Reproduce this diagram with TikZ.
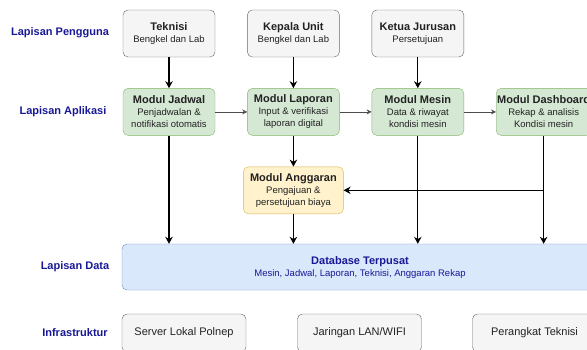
\documentclass[tikz,border=0pt]{standalone}
\usepackage{fontspec}
\setmainfont{Liberation Sans}
\usepackage{tikz}
\usetikzlibrary{arrows.meta,positioning}

\definecolor{usrfill}{HTML}{F5F5F5}
\definecolor{usrline}{HTML}{666666}
\definecolor{modfill}{HTML}{D5E8D4}
\definecolor{modline}{HTML}{82B366}
\definecolor{budfill}{HTML}{FFF2CC}
\definecolor{budline}{HTML}{D6B656}
\definecolor{dbfill}{HTML}{DAE8FC}
\definecolor{dbline}{HTML}{6C8EBF}
\definecolor{layertxt}{RGB}{24,24,150}
\definecolor{boxtxt}{HTML}{222222}

\newcommand{\boxtitle}[1]{{\fontsize{11}{12.5}\selectfont\bfseries #1}}
\newcommand{\boxsub}[1]{{\fontsize{9.5}{11}\selectfont #1}}

\begin{document}
\begin{tikzpicture}
    [x=1pt, y=-1pt, node distance = 31pt and 32pt,
      user/.style={rectangle, rounded corners=5pt, draw=usrline, fill=usrfill, minimum width=92pt, minimum height=47pt, inner sep=1pt, align=center, text=boxtxt},
      module/.style={user, draw=modline, fill=modfill},
      budget/.style={user, draw=budline, fill=budfill, minimum width=100pt},
      datab/.style={user, draw=dbline, fill=dbfill, minimum width=476pt, minimum height=46pt, text=layertxt},
      infra/.style={user, minimum width=124pt, minimum height=38pt},
      layer/.style={font=\fontsize{11}{13}\selectfont\bfseries, text=layertxt},
      darc/.style={->, >={Stealth[length=7pt,width=7.5pt]}, line width=1.3pt},
      harc/.style={->, >={Stealth[length=5pt,width=5pt]}, semithick, draw=black!70}]

    \useasboundingbox (0,0) rectangle (587,349);

    % layer labels
    \node (lpengguna) at (60,33) [layer] {Lapisan Pengguna};
    \node (laplikasi) at (63,112) [layer] {Lapisan Aplikasi};
    \node (ldata) at (75,267) [layer] {Lapisan Data};
    \node (linfra) at (75,333) [layer] {Infrastruktur};

    % users
    \node (teknisi) at (169,33.5) [user] {\boxtitle{Teknisi}\\ \boxsub{Bengkel dan Lab}};
    \node (kepala) [right=of teknisi] [user] {\boxtitle{Kepala Unit}\\ \boxsub{Bengkel dan Lab}};
    \node (ketua) [right=of kepala] [user] {\boxtitle{Ketua Jurusan}\\ \boxsub{Persetujuan}};

    % modules
    \node (jadwal) [below=of teknisi] [module] {\boxtitle{Modul Jadwal}\\ \boxsub{Penjadwalan \&}\\ \boxsub{notifikasi otomatis}};
    \node (laporan) [right=of jadwal] [module] {\boxtitle{Modul Laporan}\\ \boxsub{Input \& verifikasi}\\ \boxsub{laporan digital}};
    \node (mesin) [right=of laporan] [module] {\boxtitle{Modul Mesin}\\ \boxsub{Data \& riwayat}\\ \boxsub{kondisi mesin}};
    \node (dashboard) [right=of mesin] [module] {\boxtitle{Modul Dashboard}\\ \boxsub{Rekap \& analisis}\\ \boxsub{Kondisi mesin}};
    \node (anggaran) [below=of laporan] [budget] {\boxtitle{Modul Anggaran}\\ \boxsub{Pengajuan \&}\\ \boxsub{persetujuan biaya}};

    % data and infrastructure
    \node (db) at (360,267) [datab] {\boxtitle{Database Terpusat}\\ \boxsub{Mesin, Jadwal, Laporan, Teknisi, Anggaran Rekap}};
    \node (server) at (184,333) [infra] {\boxtitle{\mdseries Server Lokal Polnep}};
    \node (jaringan) at (359.5,333) [infra] {\boxtitle{\mdseries Jaringan LAN/WIFI}};
    \node (perangkat) at (534.5,333) [infra] {\boxtitle{\mdseries Perangkat Teknisi}};

    \draw[darc] (teknisi) to (jadwal);
    \draw[darc] (kepala) to (laporan);
    \draw[darc] (ketua) to (mesin);
    \draw[harc] (jadwal) to (laporan);
    \draw[harc] (laporan) to (mesin);
    \draw[harc] (mesin) to (dashboard);
    \draw[darc] (laporan) to (anggaran);

    \draw[darc] (jadwal.south) to (jadwal.south |- db.north);
    \draw[darc] (anggaran.south) to (anggaran.south |- db.north);
    \draw[darc] (mesin.south) to (mesin.south |- db.north);
    \coordinate (split) at (dashboard.south |- anggaran.east);
    \draw[darc] (dashboard.south) to (dashboard.south |- db.north);
    \draw[darc] (split) to (anggaran.east);
  \end{tikzpicture}
\end{document}
